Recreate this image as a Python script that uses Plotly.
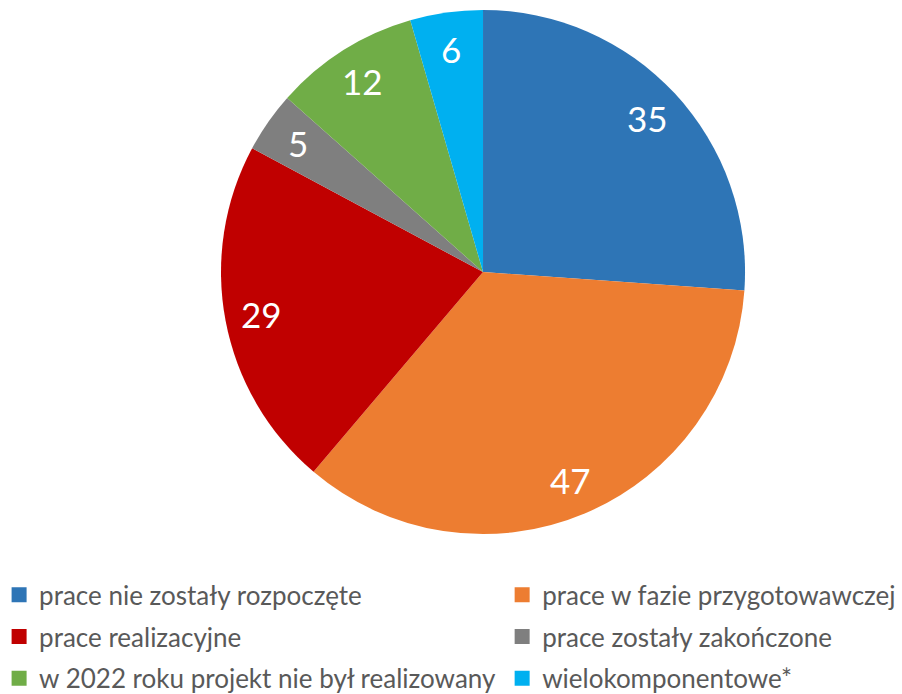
import math
import plotly.graph_objects as go

# Stan prac w projektach
labels = [
    'prace nie zostały rozpoczęte',
    'prace w fazie przygotowawczej',
    'prace realizacyjne',
    'prace zostały zakończone',
    'w 2022 roku projekt nie był realizowany',
    'wielokomponentowe*',
]
values = [35, 47, 29, 5, 12, 6]
colors = ['#2E75B6', '#ED7D31', '#C00000', '#7F7F7F', '#70AD47', '#00B0F0']

W, H = 902, 694
dom_x = [0.245, 0.826]
dom_y = [0.2305, 0.9856]

fig = go.Figure()
fig.add_trace(go.Pie(
    labels=labels,
    values=values,
    sort=False,
    direction='clockwise',
    rotation=0,
    marker=dict(colors=colors, line=dict(width=0)),
    textinfo='none',
    domain=dict(x=dom_x, y=dom_y),
    hoverinfo='label+value',
    showlegend=False,
))

# value labels placed near the rim, at the middle angle of each slice
cx = (dom_x[0] + dom_x[1]) / 2 * W
cy = (dom_y[0] + dom_y[1]) / 2 * H
r = min((dom_x[1] - dom_x[0]) * W, (dom_y[1] - dom_y[0]) * H) / 2
total = sum(values)
cum = 0
for v in values:
    ang = math.radians((cum + v / 2) / total * 360)
    cum += v
    px = cx + 0.86 * r * math.sin(ang)
    py = cy + 0.86 * r * math.cos(ang)
    fig.add_annotation(
        x=px / W, y=py / H, xref='paper', yref='paper',
        xanchor='center', yanchor='middle',
        text=str(v), showarrow=False,
        font=dict(family='Lato', size=35, color='white'),
    )

# legend entries, two columns
for i, (lab, col) in enumerate(zip(labels, colors)):
    fig.add_trace(go.Scatter(
        x=[None], y=[None], mode='markers', name=lab,
        marker=dict(symbol='square', size=15, color=col),
        legend='legend' if i % 2 == 0 else 'legend2',
        legendgroup=str(i),
        hoverinfo='skip',
    ))

leg_font = dict(family='Lato', size=26, color='#595959')
fig.update_layout(
    width=W,
    height=H,
    margin=dict(l=0, r=0, t=0, b=0, autoexpand=False),
    paper_bgcolor='white',
    plot_bgcolor='white',
    xaxis=dict(visible=False),
    yaxis=dict(visible=False),
    font=dict(family='Lato', color='#595959'),
    legend=dict(
        x=-0.001, y=0.1768, xanchor='left', yanchor='top',
        font=leg_font, tracegroupgap=5, bgcolor='rgba(0,0,0,0)',
    ),
    legend2=dict(
        x=0.5567, y=0.1768, xanchor='left', yanchor='top',
        font=leg_font, tracegroupgap=5, bgcolor='rgba(0,0,0,0)',
    ),
)

fig.write_html('out.html', config={'displayModeBar': False},
               post_script="document.body.style.margin='0px';")
